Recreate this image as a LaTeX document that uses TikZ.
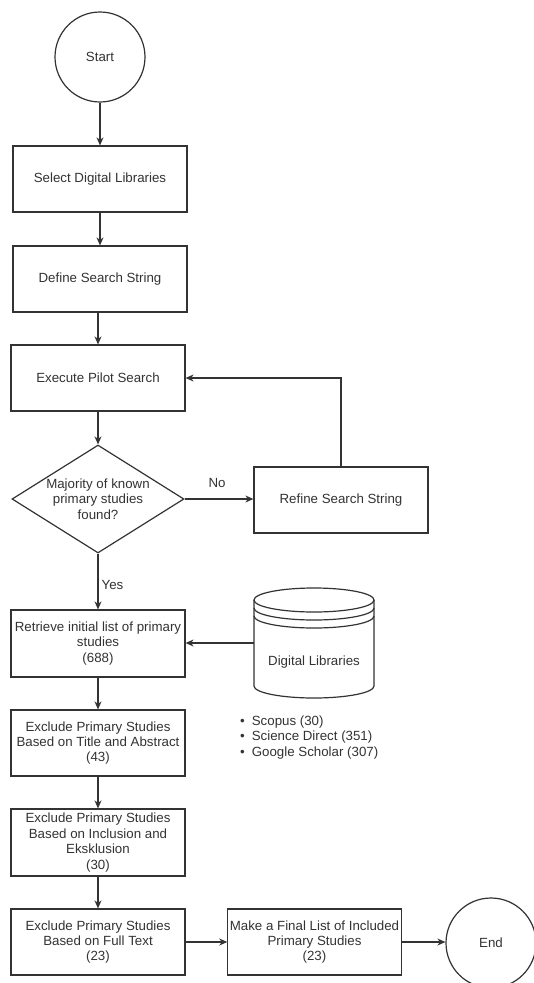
\documentclass[tikz,border=0pt]{standalone}
\usepackage{fontspec}
\setmainfont{Liberation Sans}
\usetikzlibrary{shapes.geometric,arrows.meta}
\definecolor{ink}{HTML}{333333}
\begin{document}
\begin{tikzpicture}[x=1pt,y=-1pt,
  every node/.style={font=\fontsize{13.3}{15.4}\selectfont, text=ink},
  box/.style={draw=ink, line width=1.2pt, rectangle, minimum width=174pt, minimum height=66pt, align=center, inner sep=2pt},
  term/.style={draw=ink, line width=1.2pt, circle, minimum size=90pt, inner sep=0pt},
  dec/.style={draw=ink, line width=1.2pt, diamond, minimum width=172pt, minimum height=108pt, aspect=1.6, inner sep=0pt, align=center},
  conn/.style={draw=ink, line width=1.2pt, -{Stealth[length=8pt,width=7pt,inset=2.5pt]}},
  dbline/.style={draw=ink, line width=1.2pt},
  lbl/.style={inner sep=0pt}
]
\useasboundingbox[fill=white] (0,0) rectangle (534,983);
\node[term] (start) at (100,57) {Start};
\node[box] (sel) at (100,179) {Select Digital Libraries};
\node[box] (def) at (100,279) {Define Search String};
\node[box] (exe) at (98,378) {Execute Pilot Search};
\node[dec] (dia) at (98,499) {Majority of known\\primary studies\\found?};
\node[box] (ref) at (341,500) {Refine Search String};
\node[box, minimum height=67pt] (ret) at (98,643.5) {Retrieve initial list of primary\\studies\\(688)};
\node[box] (ex1) at (98,743) {Exclude Primary Studies\\Based on Title and Abstract\\(43)};
\node[box, minimum height=67pt] (ex2) at (98,842.5) {Exclude Primary Studies\\Based on Inclusion and\\Eksklusion\\(30)};
\node[box] (ex3) at (98,942) {Exclude Primary Studies\\Based on Full Text\\(23)};
\node[box, minimum width=173pt] (fin) at (314.5,942) {Make a Final List of Included\\Primary Studies\\(23)};
\node[term] (end) at (491,943) {End};

% database cylinder
\draw[dbline] (314,600) ellipse [x radius=60, y radius=12];
\draw[dbline] (254,600) -- (254,686) arc[start angle=180, end angle=360, x radius=60, y radius=-12] -- (374,600);
\draw[dbline] (254,608) arc[start angle=180, end angle=360, x radius=60, y radius=-12];
\draw[dbline] (254,616) arc[start angle=180, end angle=360, x radius=60, y radius=-12];
\node[minimum width=120pt, minimum height=110pt, inner sep=0pt] (dl) at (314,643) {};
\node[lbl] (dltext) at (314,662) {Digital Libraries};

\node[lbl, anchor=west, align=left] (list) at (240,737.5) {•\hspace{7pt}Scopus (30)\\•\hspace{7pt}Science Direct (351)\\•\hspace{7pt}Google Scholar (307)};

\path[conn] (start) -- (sel);
\path[conn] (sel) -- (def);
\path[conn] (def.south) -- (def.south -| exe.north) -- (exe.north);
\path[conn] (exe) -- (dia);
\path[conn] (dia.east) -- node[lbl, above, yshift=11pt, xshift=-2pt] (no) {No} (dia.east -| ref.west);
\path[conn] (ref.north) |- (exe.east);
\path[conn] (dia.south) -- node[lbl, right, xshift=3pt, yshift=-3pt] (yes) {Yes} (ret.north);
\path[conn] (dl.west) -- (dl.west -| ret.east);
\path[conn] (ret) -- (ex1);
\path[conn] (ex1) -- (ex2);
\path[conn] (ex2) -- (ex3);
\path[conn] (ex3) -- (fin);
\path[conn] (fin.east) -- (end.west |- fin.east);
\end{tikzpicture}
\end{document}
